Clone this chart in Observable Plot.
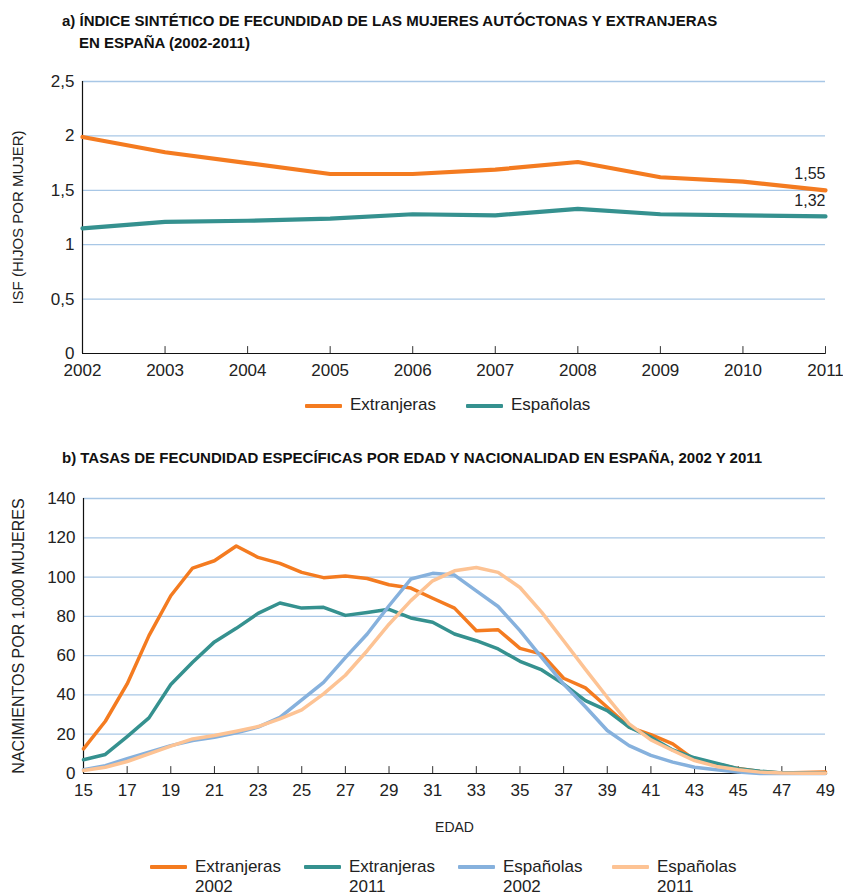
<!DOCTYPE html>
<html><head><meta charset="utf-8">
<script src="https://cdn.jsdelivr.net/npm/d3@7"></script>
<script src="https://cdn.jsdelivr.net/npm/@observablehq/plot@0.6"></script>
<style>
body{margin:0;background:#fff;font-family:"Liberation Sans",Arial,sans-serif;color:#222;}
#wrap{position:relative;width:843px;height:896px;overflow:hidden;}
.title{position:absolute;left:62px;font-weight:bold;font-size:15px;color:#111;line-height:22px;white-space:nowrap;}
.chart{position:absolute;left:0;}
.legend{position:absolute;display:flex;font-size:17px;color:#222;}
.item{display:flex;align-items:flex-start;}
.sw{width:37px;height:4px;margin-right:8px;border-radius:1px;}
</style></head>
<body><div id="wrap">
<div class="title" style="top:10px">a) ÍNDICE SINTÉTICO DE FECUNDIDAD DE LAS MUJERES AUTÓCTONAS Y EXTRANJERAS<br><span style="padding-left:17px">EN ESPAÑA (2002-2011)</span></div>
<div id="c1" class="chart" style="top:60px"></div>
<div id="l1" class="legend" style="top:395px;left:305px"></div>
<div class="title" style="top:447px">b) TASAS DE FECUNDIDAD ESPECÍFICAS POR EDAD Y NACIONALIDAD EN ESPAÑA, 2002 Y 2011</div>
<div id="c2" class="chart" style="top:470px"></div>
<div id="l2" class="legend" style="top:857px;left:150px"></div>
</div>
<script>
// ---- Chart a data ----
const years = [2002, 2003, 2004, 2005, 2006, 2007, 2008, 2009, 2010, 2011];
const isfExtranjeras = [1.99, 1.85, 1.75, 1.65, 1.65, 1.69, 1.76, 1.62, 1.58, 1.50];
const isfEspanolas = [1.15, 1.21, 1.22, 1.24, 1.28, 1.27, 1.33, 1.28, 1.27, 1.26];
const seriesA = ["Extranjeras", "Españolas"];
const endLabels = ["1,55", "1,32"];
const yTicksA = [0, 0.5, 1, 1.5, 2, 2.5];
const yLabelA = "ISF (HIJOS POR MUJER)";

// ---- Chart b data ----
const ages = [15,16,17,18,19,20,21,22,23,24,25,26,27,28,29,30,31,32,33,34,35,36,37,38,39,40,41,42,43,44,45,46,47,48,49];
const extranjeras2002 = [12.5,26.6,45.6,70.2,90.5,104.6,108.3,115.8,110,107,102.4,99.7,100.5,99.3,96.1,94.4,89.2,84.2,72.7,73.2,63.7,60.8,48.5,43.6,33.7,23.6,19.8,15.1,6.9,4.9,2.5,1,0.3,0.5,0.8];
const extranjeras2011 = [7,9.7,18.8,28.3,45.3,56.6,67,73.9,81.5,86.8,84.2,84.6,80.5,82,83.6,79.2,77,71,67.6,63.4,57.1,52.7,45.5,37.1,32,23.6,18.5,12,8,5.3,2.4,1.2,0.3,0.2,0.1];
const espanolas2002 = [1.9,4,7.5,10.8,14.2,16.8,18.5,20.7,23.6,28.6,37.5,46.4,59,71,85.4,99,101.9,101,93,85,72.7,59,45.5,34,21.9,14.2,9.2,5.8,3.2,1.9,0.7,0,0,0,0];
const espanolas2011 = [1.5,3.2,6.1,10,13.9,17.6,19.3,21.5,23.9,27.8,32.4,40.5,50,62.5,76,88,98.1,103.2,104.9,102.4,94.7,82,67.6,53,38.8,25.3,17.1,11.7,6.6,3.6,1.9,0.7,0.2,0.1,0.1];
const seriesB = [["Extranjeras","2002"],["Extranjeras","2011"],["Españolas","2002"],["Españolas","2011"]];
const xTicksB = [15,17,19,21,23,25,27,29,31,33,35,37,39,41,43,45,47,49];
const yTicksB = [0,20,40,60,80,100,120,140];
const yLabelB = "NACIMIENTOS POR 1.000 MUJERES";
const xLabelB = "EDAD";

const colA = ["#f47b20", "#35918f"];
const colB = ["#f47b20", "#35918f", "#86b1dd", "#fdc394"];
const gridCol = "#a8c7e6";
const comma = d => String(d).replace(".", ",");
const tickShape = {draw(ctx, l) { ctx.moveTo(0, 0); ctx.lineTo(0, -l); }};
const font = "Liberation Sans, Arial, sans-serif";

// ---- Chart a ----
const dataA = years.flatMap((y, i) => [
  {year: y, v: isfExtranjeras[i], s: seriesA[0]},
  {year: y, v: isfEspanolas[i], s: seriesA[1]}
]);
const endA = seriesA.map((s, i) => ({year: years[years.length-1], v: (i === 0 ? isfExtranjeras : isfEspanolas)[years.length-1], label: endLabels[i]}));

const plotA = Plot.plot({
  width: 843, height: 323,
  marginLeft: 82, marginRight: 18, marginTop: 21, marginBottom: 30,
  style: {fontFamily: font, fontSize: "17px", color: "#222", overflow: "visible", background: "transparent"},
  x: {domain: [2002, 2011], ticks: years, tickFormat: d => String(d)},
  y: {domain: [0, 2.5], ticks: yTicksA, tickFormat: comma},
  color: {domain: seriesA, range: colA},
  marks: [
    Plot.gridY(yTicksA.filter(d => d > 0), {stroke: gridCol, strokeOpacity: 1, strokeWidth: 1.3}),
    Plot.axisY({tickSize: 0, tickPadding: 8, label: null, ticks: yTicksA, tickFormat: comma}),
    Plot.axisX({tickSize: 0, tickPadding: 10, label: null, ticks: years, tickFormat: d => String(d)}),
    Plot.vector(years, {x: d => d, y: 0, length: 7, rotate: 0, anchor: "start", shape: tickShape, stroke: "#333", strokeWidth: 1}),
    Plot.ruleY([0], {stroke: "#111", strokeWidth: 1.2}),
    Plot.ruleX([2002], {stroke: "#111", strokeWidth: 1.2}),
    Plot.line(dataA, {x: "year", y: "v", stroke: "s", strokeWidth: 4.2}),
    Plot.text(endA, {x: "year", y: "v", text: "label", dy: -16, textAnchor: "end", fontSize: 16, fill: "#222"}),
    Plot.text([yLabelA], {frameAnchor: "left", textAnchor: "middle", rotate: -90, dx: -64, fontSize: 15, fill: "#222", text: d => d, style: "letter-spacing:0.3px"})
  ]
});
document.getElementById("c1").append(plotA);

// ---- Chart b ----
const arrs = [extranjeras2002, extranjeras2011, espanolas2002, espanolas2011];
const keysB = seriesB.map(d => d.join(" "));
const dataB = keysB.flatMap((k, j) => ages.map((a, i) => ({age: a, v: arrs[j][i], s: k})));

const plotB = Plot.plot({
  width: 843, height: 370,
  marginLeft: 83, marginRight: 18, marginTop: 28, marginBottom: 67,
  style: {fontFamily: font, fontSize: "17px", color: "#222", overflow: "visible", background: "transparent"},
  x: {domain: [15, 49], ticks: xTicksB},
  y: {domain: [0, 140], ticks: yTicksB},
  color: {domain: keysB, range: colB},
  marks: [
    Plot.gridY(yTicksB.filter(d => d > 0), {stroke: gridCol, strokeOpacity: 1, strokeWidth: 1.3}),
    Plot.axisY({tickSize: 0, tickPadding: 8, label: null, ticks: yTicksB}),
    Plot.axisX({tickSize: 0, tickPadding: 10, label: null, ticks: xTicksB}),
    Plot.vector(xTicksB, {x: d => d, y: 0, length: 7, rotate: 0, anchor: "start", shape: tickShape, stroke: "#333", strokeWidth: 1}),
    Plot.ruleY([0], {stroke: "#111", strokeWidth: 1.2}),
    Plot.ruleX([15], {stroke: "#111", strokeWidth: 1.2}),
    Plot.line(dataB, {x: "age", y: "v", stroke: "s", strokeWidth: 3.5, z: "s"}),
    Plot.text([yLabelB], {frameAnchor: "left", textAnchor: "middle", rotate: -90, dx: -65, fontSize: 16, fill: "#222", text: d => d, style: "letter-spacing:0.4px"}),
    Plot.text([xLabelB], {frameAnchor: "bottom", dy: 58, fontSize: 14, fill: "#222", text: d => d})
  ]
});
document.getElementById("c2").append(plotB);

// ---- Legends ----
const l1 = document.getElementById("l1");
seriesA.forEach((s, i) => {
  const it = document.createElement("div");
  it.className = "item";
  it.style.marginRight = "30px";
  it.innerHTML = `<div class="sw" style="background:${colA[i]};margin-top:9px"></div><div>${s}</div>`;
  l1.append(it);
});
const l2 = document.getElementById("l2");
seriesB.forEach((s, i) => {
  const it = document.createElement("div");
  it.className = "item";
  it.style.width = "154px";
  it.innerHTML = `<div class="sw" style="background:${colB[i]};margin-top:8px"></div><div style="line-height:20px">${s[0]}<br>${s[1]}</div>`;
  l2.append(it);
});
</script>
</body></html>
